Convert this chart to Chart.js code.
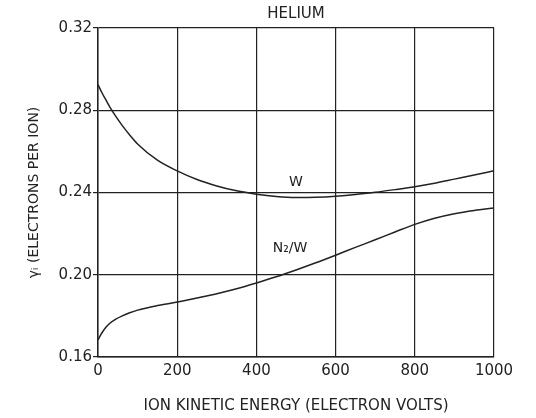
<!DOCTYPE html>
<html>
<head>
<meta charset="utf-8">
<script src="https://cdn.jsdelivr.net/npm/chart.js@4/dist/chart.umd.min.js"></script>
<style>
  html, body { margin: 0; padding: 0; background: #fff; }
  canvas { display: block; }
</style>
</head>
<body>
<canvas id="c" width="536" height="418"></canvas>
<script>
// ---- Data ----
const energy = [0, 10, 20, 30, 45, 60, 80, 100, 150, 200, 250, 300, 350, 400, 450, 500, 550, 600, 650, 700, 750, 800, 850, 900, 950, 1000];
const wValues = [0.2925, 0.2885, 0.2850, 0.2815, 0.2770, 0.2729, 0.2680, 0.2636, 0.2557, 0.2505, 0.2463, 0.2432, 0.2408, 0.2392, 0.2381, 0.2376, 0.2377, 0.2382, 0.2390, 0.2401, 0.2414, 0.2428, 0.2445, 0.2465, 0.2485, 0.2506];
const n2wValues = [0.1683, 0.1718, 0.1745, 0.1764, 0.1784, 0.1799, 0.1815, 0.1828, 0.1850, 0.1867, 0.1887, 0.1908, 0.1932, 0.1960, 0.1990, 0.2023, 0.2058, 0.2095, 0.2133, 0.2170, 0.2208, 0.2245, 0.2275, 0.2297, 0.2313, 0.2325];
const xTicks = [0, 200, 400, 600, 800, 1000];
const yTicks = [0.16, 0.20, 0.24, 0.28, 0.32];
const curveLabels = [
  { text: 'W', x: 500, y: 0.2451 },
  { text: 'N\u2082/W', x: 485, y: 0.2130 }
];
const chartTitle = 'HELIUM';
const xTitle = 'ION KINETIC ENERGY (ELECTRON VOLTS)';
const yTitle = '\u03B3\u1D62 (ELECTRONS PER ION)';

const INK = '#222';
const FONT = 'DejaVu Sans';

const toPoints = (xs, ys) => xs.map((x, i) => ({ x, y: ys[i] }));

const curveLabelPlugin = {
  id: 'curveLabels',
  afterDatasetsDraw(chart) {
    const { ctx, scales } = chart;
    ctx.save();
    ctx.fillStyle = INK;
    ctx.font = '14px "' + FONT + '"';
    ctx.textAlign = 'center';
    ctx.textBaseline = 'middle';
    curveLabels.forEach(l => {
      ctx.fillText(l.text, scales.x.getPixelForValue(l.x), scales.y.getPixelForValue(l.y));
    });
    ctx.restore();
  }
};

new Chart(document.getElementById('c'), {
  type: 'line',
  data: {
    datasets: [
      { label: 'W', data: toPoints(energy, wValues) },
      { label: 'N2/W', data: toPoints(energy, n2wValues) }
    ]
  },
  options: {
    responsive: false,
    animation: false,
    layout: { padding: { left: 0, right: 42, top: 0, bottom: 0 } },
    elements: {
      line: { borderColor: INK, borderWidth: 1.5, cubicInterpolationMode: 'monotone', fill: false },
      point: { radius: 0, hoverRadius: 0 }
    },
    plugins: {
      legend: { display: false },
      tooltip: { enabled: false },
      title: {
        display: true,
        text: chartTitle,
        fullSize: false,
        color: INK,
        font: { family: FONT, size: 15, weight: 'normal' },
        padding: { top: 5, bottom: 5 }
      }
    },
    scales: {
      x: {
        type: 'linear',
        min: 0,
        max: 1000,
        afterBuildTicks: s => { s.ticks = xTicks.map(v => ({ value: v })); },
        afterFit: s => { s.height = 61; },
        grid: { color: INK, lineWidth: 1.2, drawTicks: false },
        border: { color: INK, width: 1.5 },
        ticks: {
          color: INK,
          font: { family: FONT, size: 15 },
          padding: 5,
          maxRotation: 0,
          callback: v => String(v)
        },
        title: {
          display: true,
          text: xTitle,
          color: INK,
          font: { family: FONT, size: 15 },
          padding: { top: 0, bottom: 3 }
        }
      },
      y: {
        type: 'linear',
        min: 0.16,
        max: 0.32,
        afterBuildTicks: s => { s.ticks = yTicks.map(v => ({ value: v })); },
        afterFit: s => { s.width = 98; },
        grid: { color: INK, lineWidth: 1.2, drawTicks: true, tickLength: 5 },
        border: { color: INK, width: 1.5 },
        ticks: {
          color: INK,
          font: { family: FONT, size: 15 },
          padding: 1,
          callback: v => v.toFixed(2)
        },
        title: {
          display: true,
          text: yTitle,
          color: INK,
          font: { family: FONT, size: 14 },
          padding: { top: 26, bottom: 0 }
        }
      }
    }
  },
  plugins: [curveLabelPlugin]
});
</script>
</body>
</html>
